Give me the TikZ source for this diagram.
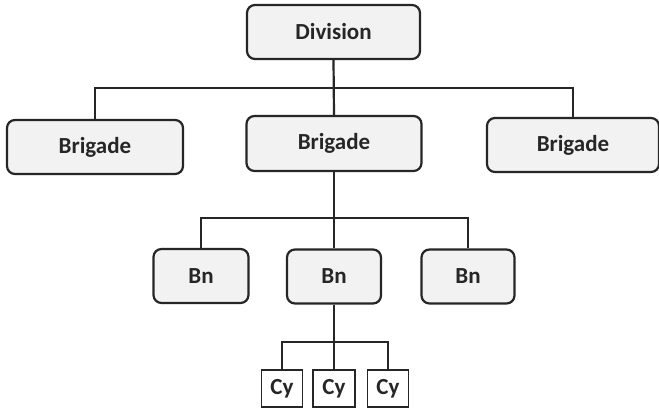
\documentclass[tikz,border=0pt]{standalone}
\usepackage{fontspec}
\setmainfont{Carlito}
\definecolor{linec}{HTML}{262626}
\definecolor{boxfill}{HTML}{F2F2F3}
\begin{document}
\begin{tikzpicture}[x=1pt,y=-1pt,
  rbox/.style={draw=linec, line width=2.2pt, fill=boxfill, rounded corners=8pt,
    font=\fontsize{23}{26}\selectfont\bfseries, text=linec, inner sep=0pt},
  sbox/.style={draw=linec, line width=1.5pt, fill=white,
    font=\fontsize{23}{26}\selectfont\bfseries, text=linec, inner sep=0pt,
    minimum width=41pt, minimum height=37pt},
  conn/.style={draw=linec, line width=2.2pt}]
\useasboundingbox (0,0) rectangle (659,411);
\fill[white] (0,0) rectangle (659,411);
\coordinate (j1) at (334,88);
\coordinate (j2) at (334,218);
\coordinate (j3) at (334,342);
\node[rbox, minimum width=173pt, minimum height=54pt] (div) at (333.5,32) {Division};
\node[rbox, minimum width=176pt, minimum height=54pt] (bl) at (95,147) {Brigade};
\node[rbox, minimum width=175pt, minimum height=55pt] (bm) at (334,143.5) {Brigade};
\node[rbox, minimum width=172pt, minimum height=54pt] (br) at (573,145) {Brigade};
\node[rbox, minimum width=95pt, minimum height=54pt] (nl) at (201,276) {Bn};
\node[rbox, minimum width=94pt, minimum height=54pt] (nm) at (334,276.5) {Bn};
\node[rbox, minimum width=93pt, minimum height=54pt] (nr) at (468,276.5) {Bn};
\node[sbox] (cl) at (282,388.5) {Cy};
\node[sbox, minimum width=42pt] (cm) at (334,388.5) {Cy};
\node[sbox] (cr) at (388,388.5) {Cy};
\draw[conn] (div.south) -- (bm.north);
\draw[conn] (bl.north) |- (j1) -| (br.north);
\draw[conn] (bm.south) -- (nm.north);
\draw[conn] (nl.north) |- (j2) -| (nr.north);
\draw[conn] (nm.south) -- (cm.north);
\draw[conn] (cl.north) |- (j3) -| (cr.north);
\end{tikzpicture}
\end{document}
